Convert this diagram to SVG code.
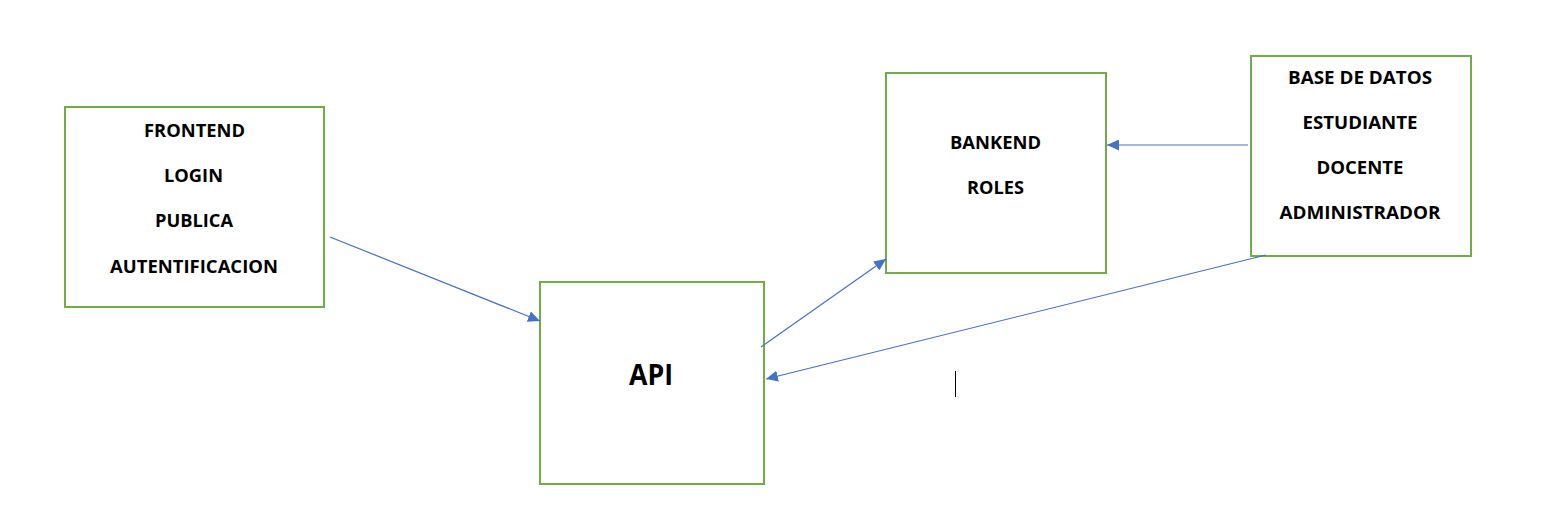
<svg xmlns="http://www.w3.org/2000/svg" width="1541" height="521" viewBox="0 0 1541 521">
<style>
.box{fill:#fff;stroke:#70AD47;stroke-width:2}
.t{font-family:"Open Sans","Liberation Sans",sans-serif;font-weight:bold;font-size:18px;fill:#000;text-anchor:middle}
.big{font-size:28px}
.c{stroke:#4472C4;stroke-width:1.2;fill:none;marker-end:url(#ah)}
</style>
<defs>
<marker id="ah" markerUnits="userSpaceOnUse" markerWidth="13" markerHeight="11" refX="12" refY="5.5" orient="auto">
<path d="M0,0 L12,5.5 L0,11 Z" fill="#4472C4"/>
</marker>
</defs>
<rect width="1541" height="521" fill="#fff"/>
<g id="frontend">
<rect class="box" x="65" y="107" width="259" height="200"/>
<text class="t" x="194.5" y="137" textLength="101" lengthAdjust="spacingAndGlyphs">FRONTEND</text>
<text class="t" x="193.5" y="182" textLength="59" lengthAdjust="spacingAndGlyphs">LOGIN</text>
<text class="t" x="194" y="227" textLength="78" lengthAdjust="spacingAndGlyphs">PUBLICA</text>
<text class="t" x="194" y="273" textLength="168" lengthAdjust="spacingAndGlyphs">AUTENTIFICACION</text>
</g>
<g id="api">
<rect class="box" x="540" y="282" width="224" height="202"/>
<text class="t big" x="651" y="385" textLength="44" lengthAdjust="spacingAndGlyphs">API</text>
</g>
<g id="bankend">
<rect class="box" x="886" y="73" width="220" height="200"/>
<text class="t" x="995.5" y="149" textLength="91" lengthAdjust="spacingAndGlyphs">BANKEND</text>
<text class="t" x="995.5" y="194" textLength="57" lengthAdjust="spacingAndGlyphs">ROLES</text>
</g>
<g id="basededatos">
<rect class="box" x="1251" y="56" width="220" height="200"/>
<text class="t" x="1360" y="84" textLength="144" lengthAdjust="spacingAndGlyphs">BASE DE DATOS</text>
<text class="t" x="1360" y="129" textLength="115" lengthAdjust="spacingAndGlyphs">ESTUDIANTE</text>
<text class="t" x="1360" y="174" textLength="87" lengthAdjust="spacingAndGlyphs">DOCENTE</text>
<text class="t" x="1360" y="219" textLength="161" lengthAdjust="spacingAndGlyphs">ADMINISTRADOR</text>
</g>
<g id="connectors">
<line class="c" x1="330" y1="237" x2="540" y2="321"/>
<line class="c" x1="761" y1="347" x2="886" y2="259"/>
<line class="c" x1="1248" y1="145" x2="1107" y2="145"/>
<line class="c" x1="1266" y1="255" x2="766" y2="379"/>
</g>
<line x1="955.5" y1="371" x2="955.5" y2="397" stroke="#000" stroke-width="1"/>
</svg>
